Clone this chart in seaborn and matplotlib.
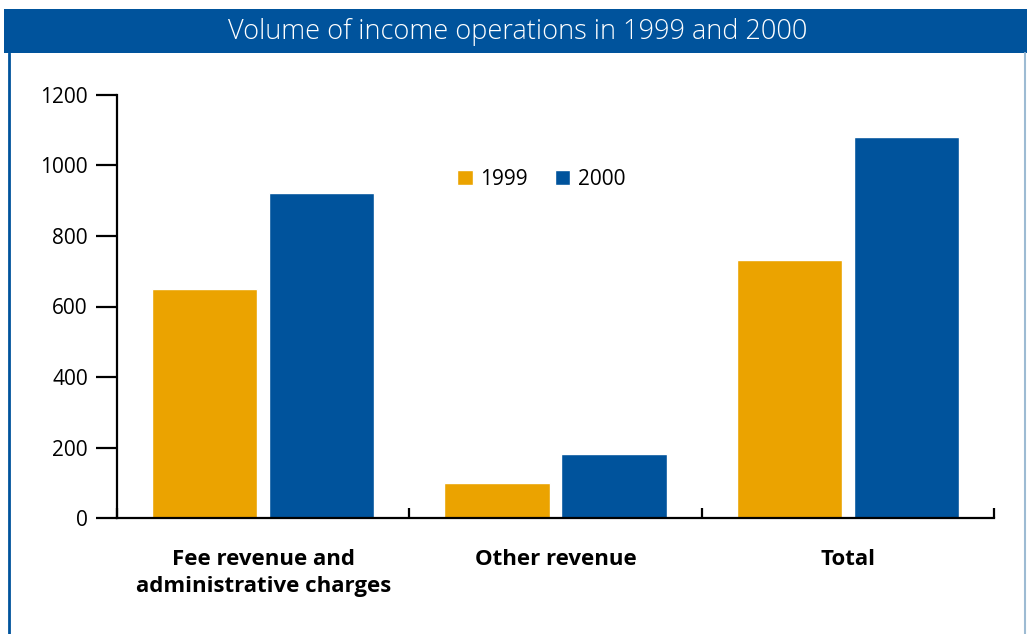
import matplotlib
matplotlib.use("Agg")
import matplotlib.pyplot as plt
from matplotlib.patches import Rectangle
from matplotlib.lines import Line2D
import seaborn as sns
import pandas as pd

categories = ["Fee revenue and\nadministrative charges", "Other revenue", "Total"]
years = ["1999", "2000"]
values_1999 = [650, 100, 732]
values_2000 = [922, 181, 1081]
y_ticks = [0, 200, 400, 600, 800, 1000, 1200]
title = "Volume of income operations in 1999 and 2000"

ORANGE = "#EBA300"
BLUE = "#00539C"

sns.set_theme(style="white", rc={"text.color": "black", "xtick.color": "black",
                                 "ytick.color": "black", "axes.labelcolor": "black"})
plt.rcParams["font.family"] = ["Open Sans", "DejaVu Sans"]

rows = []
for cat, v99, v00 in zip(categories, values_1999, values_2000):
    rows.append({"category": cat, "year": years[0], "value": v99})
    rows.append({"category": cat, "year": years[1], "value": v00})
df = pd.DataFrame(rows)

fig = plt.figure(figsize=(10.27, 6.34), dpi=100)
ax = fig.add_axes([117 / 1027, 1 - 518 / 634, (994 - 117) / 1027, (518 - 95) / 634])

sns.barplot(data=df, x="category", y="value", hue="year", order=categories,
            hue_order=years, palette=[ORANGE, BLUE], saturation=1,
            width=0.8, gap=0.1, ax=ax)

ax.set_xlim(-0.5, 2.5)
ax.set_ylim(0, 1200)
ax.set_xlabel("")
ax.set_ylabel("")

for side in ["top", "right"]:
    ax.spines[side].set_visible(False)
for side in ["left", "bottom"]:
    ax.spines[side].set_color("black")
    ax.spines[side].set_linewidth(1.6)

ax.set_yticks(y_ticks)
ax.set_yticklabels([str(t) for t in y_ticks], fontsize=15, color="black")
ax.tick_params(axis="y", direction="out", length=15, width=1.6, color="black",
               pad=6, left=True)

# boundary ticks between the groups, labels centred under each group
ax.set_xticks([-0.5, 0.5, 1.5, 2.5])
ax.set_xticklabels([])
ax.tick_params(axis="x", which="major", direction="in", length=7, width=1.6,
               color="black", bottom=True)
ax.set_xticks([0, 1, 2], minor=True)
ax.set_xticklabels(categories, minor=True, fontsize=16, fontweight="bold",
                   linespacing=1.4, color="black")
ax.tick_params(axis="x", which="minor", length=0, pad=22, bottom=True)

leg = ax.legend(loc="upper left", bbox_to_anchor=((457 - 117) / 877, (518 - 169) / 423),
                ncol=2, frameon=False, fontsize=15, handlelength=0.75,
                handleheight=0.75, handletextpad=0.35, columnspacing=1.3,
                borderaxespad=0, borderpad=0, labelcolor="black")

# title band and frame
fig.patches.append(Rectangle((4 / 1027, 1 - 53 / 634), 1 - 4 / 1027, 44 / 634,
                             transform=fig.transFigure, facecolor=BLUE,
                             edgecolor="none", zorder=0))
fig.text(518 / 1027, 1 - 32 / 634, title, color="white", fontsize=19.5,
         fontweight="light", ha="center", va="center")
fig.lines.append(Line2D([9 / 1027, 9 / 1027], [0, 1 - 53 / 634],
                        transform=fig.transFigure, color=BLUE, linewidth=2))
fig.lines.append(Line2D([1025 / 1027, 1025 / 1027], [0, 1 - 53 / 634],
                        transform=fig.transFigure, color="#9DBBD3", linewidth=1.5))

fig.savefig("out.png", dpi=100)
